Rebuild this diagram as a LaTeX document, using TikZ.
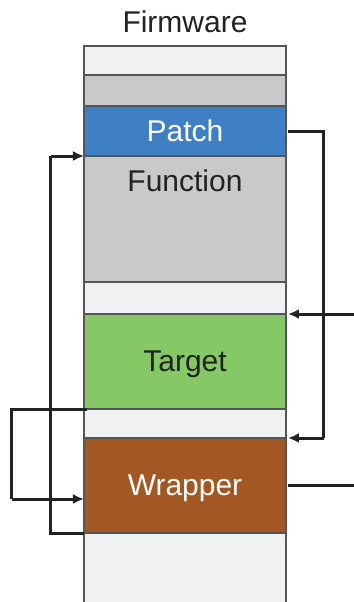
\documentclass[tikz,border=0pt]{standalone}
\usepackage{fontspec}
\setmainfont{Liberation Sans}
\usepackage{tikz}
\usetikzlibrary{positioning,arrows.meta}
\definecolor{SlotLight}{HTML}{F0F1F3}
\definecolor{SlotGray}{HTML}{C8C9CB}
\definecolor{PatchBlue}{HTML}{3F7FC4}
\definecolor{TargetGreen}{HTML}{86C766}
\definecolor{WrapBrown}{HTML}{A35722}
\definecolor{EdgeGray}{HTML}{555555}
\definecolor{InkDark}{HTML}{222222}

\begin{document}
\begin{tikzpicture}[
      x=0.5pt, y=-0.5pt,
      node distance = 0pt,
      seg/.style = {rectangle, draw=EdgeGray, line width=0.6pt, fill=SlotLight,
        minimum width=101pt, inner sep=0pt, outer sep=0pt,
        text=InkDark, font=\fontsize{15}{18}\selectfont},
      conn/.style = {line width=1.5pt, draw=InkDark,
        -{Latex[length=5.5pt,width=5pt]}},
      wire/.style = {line width=1.5pt, draw=InkDark}
    ]
    \clip (0,0) rectangle (354,602);
    % memory column
    \node (top) [seg, minimum height=14.5pt] at (185,60.5) {};
    \node (hdr) [seg, fill=SlotGray, minimum height=15.5pt, below=of top] {};
    \node (patch) [seg, fill=PatchBlue, text=white, minimum height=25pt,
      below=of hdr] {Patch};
    \node (func) [seg, fill=SlotGray, minimum height=63pt, below=of patch,
      label={[font=\fontsize{15}{18}\selectfont, text=InkDark,
        anchor=center, yshift=-12.5pt]north:Function}] {};
    \node (gapA) [seg, minimum height=16pt, below=of func] {};
    \node (target) [seg, fill=TargetGreen, minimum height=47.5pt,
      text depth=0pt, below=of gapA] {Target};
    \node (gapB) [seg, minimum height=14.5pt, below=of target] {};
    \node (wrapper) [seg, fill=WrapBrown, text=white, minimum height=47.5pt,
      text depth=0pt, below=of gapB] {Wrapper};
    \node (tail) [seg, minimum height=45pt, below=of wrapper] {};
    \node (title) [above=6.5pt of top, inner sep=0pt, text=InkDark,
      font=\fontsize{15}{18}\selectfont] {Firmware};
    % rails for the connectors
    \coordinate (railR) at (324,0);
    \coordinate (edgeR) at (354,0);
    \coordinate (railL) at (12,0);
    \coordinate (railM) at (51,0);
    \coordinate (wrapIn) at ([yshift=-6.75pt]wrapper.west);
    \draw [wire] ([xshift=1pt]patch.east) -- (patch.east -| railR)
      -- (wrapper.north east -| railR);
    \draw [conn] (wrapper.north east -| railR) -- ([xshift=1pt]wrapper.north east);
    \draw [conn] (target.north east -| edgeR) -- ([xshift=1pt]target.north east);
    \draw [wire] ([xshift=1pt]wrapper.east) -- (wrapper.east -| edgeR);
    \draw [wire] ([xshift=1.5pt]target.south west) -- (target.south west -| railL)
      -- (wrapIn -| railL);
    \draw [conn] (wrapIn -| railL) -- (wrapIn);
    \draw [wire] (wrapper.south west) -- (wrapper.south west -| railM)
      -- (func.north west -| railM);
    \draw [conn] (func.north west -| railM) -- (func.north west);
  \end{tikzpicture}
\end{document}
